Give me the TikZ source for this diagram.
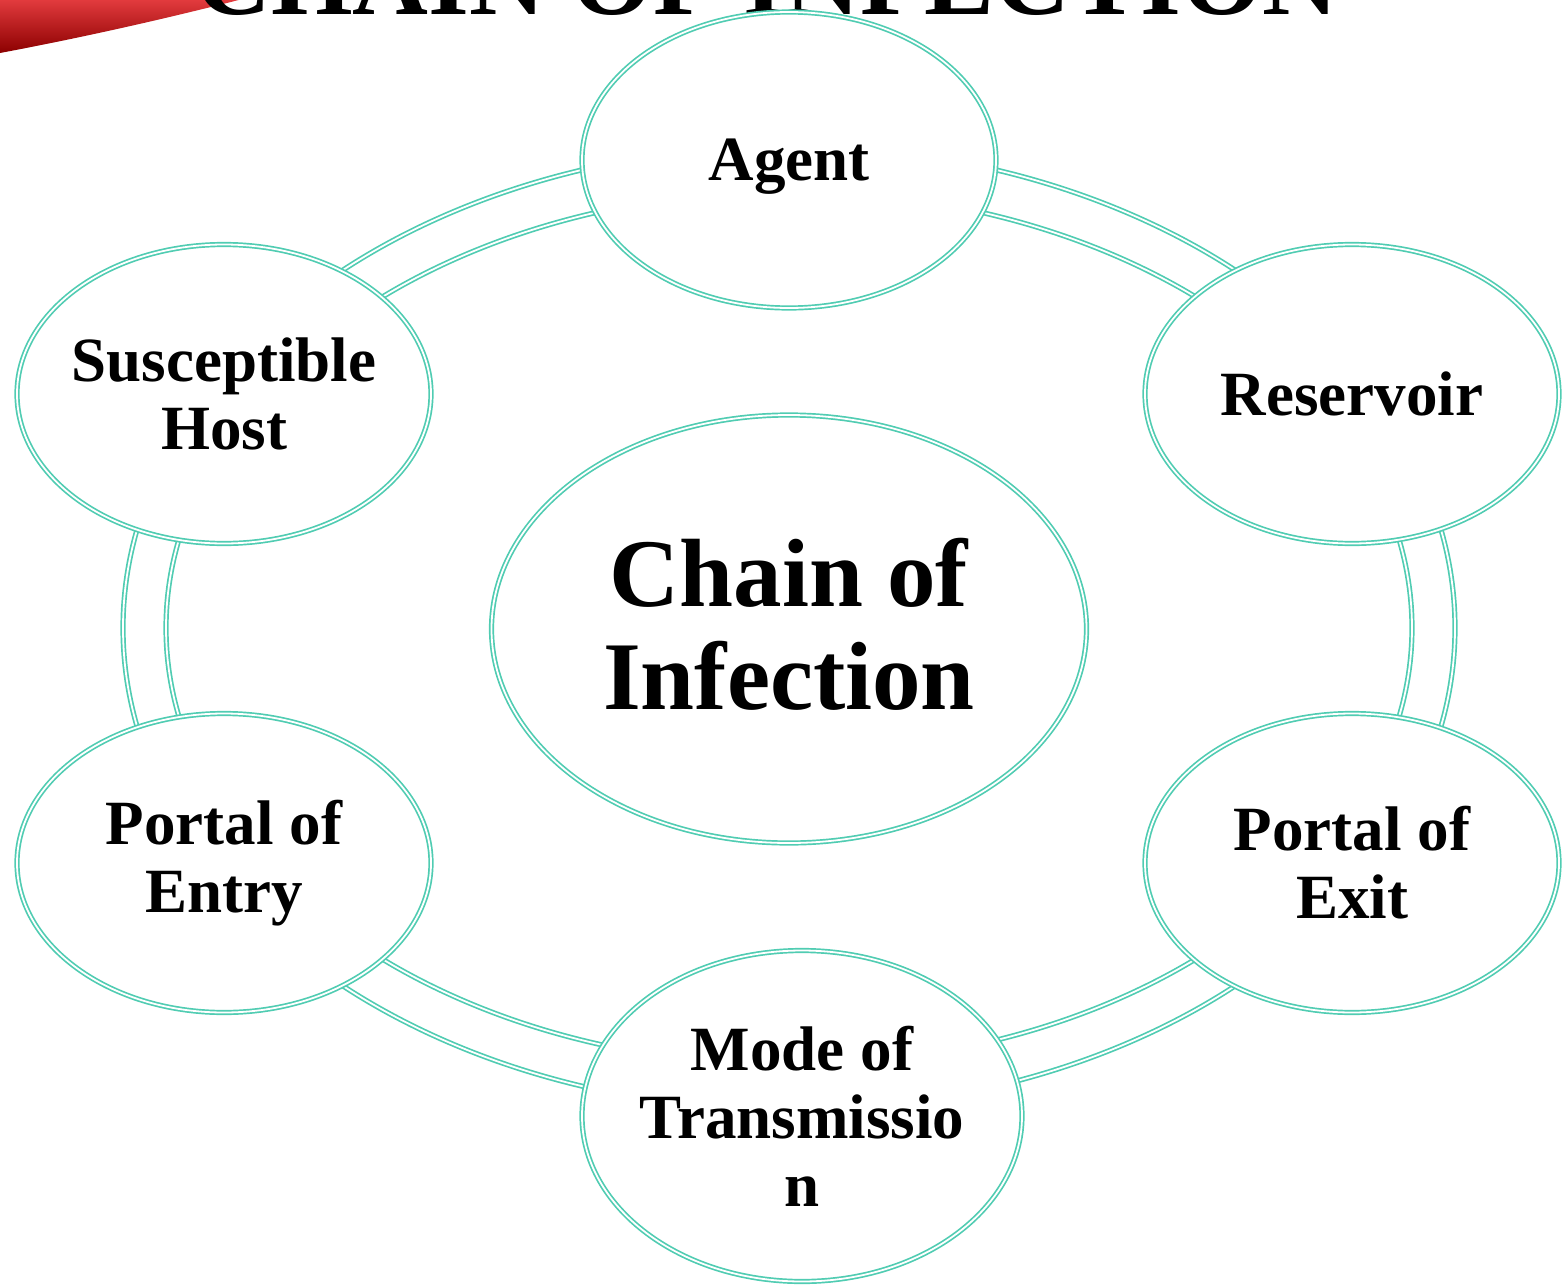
\documentclass[tikz,border=0pt]{standalone}
\usepackage{fontspec}
\setmainfont{Liberation Serif}
\usetikzlibrary{shapes.geometric}
\definecolor{mint}{RGB}{80,204,178}
\definecolor{swred}{RGB}{230,30,34}
\definecolor{swdark}{RGB}{140,0,0}
\begin{document}
\begin{tikzpicture}[x=1pt,y=-1pt,
  dline/.style={draw=mint, line width=1.7pt, double=white, double distance=1.8pt},
  bubble/.style={ellipse, dline, fill=white, inner sep=0pt, align=center,
    font=\fontsize{63}{68}\selectfont\bfseries},
]
\useasboundingbox (0,0) rectangle (1564,1285);
\clip (0,0) rectangle (1564,1285);
% red swoosh
\shade[top color=swred!85!white, middle color=swred, bottom color=swdark]
  (0,-5) -- (258,-5) .. controls (170,18) and (80,38) .. (0,53) -- cycle;
% title
\node[anchor=base, inner sep=0pt, font=\fontsize{105}{105}\selectfont\bfseries] (title) at (767,14) {CHAIN OF INFECTION};
% ring bands
\foreach \c in {-60,0,60,120,180,240}{
  \pgfmathsetmacro{\s}{\c-24}
  \pgfmathsetmacro{\e}{\c+24}
  \draw[dline] ({789+666*cos(\s)},{628+482*sin(\s)})
    arc[start angle=\s, end angle=\e, x radius=666, y radius=482]
    -- ({789+623*cos(\e)},{628+437*sin(\e)})
    arc[start angle=\e, end angle=\s, x radius=623, y radius=437] -- cycle;
}
% nodes
\node[bubble, minimum width=414, minimum height=296, text depth=0pt] (agent) at (789,160) {Agent};
\node[bubble, minimum width=414, minimum height=299] (reservoir) at (1352,394) {Reservoir};
\node[bubble, minimum width=414, minimum height=299] (exit) at (1352,863) {Portal of\\Exit};
\node[bubble, minimum width=440, minimum height=331, inner xsep=-40pt] (mode) at (802,1116) {Mode of\\Transmissio\\n};
\node[bubble, minimum width=414, minimum height=299] (entry) at (224,863) {Portal of\\Entry};
\node[bubble, minimum width=414, minimum height=299, inner xsep=-40pt] (host) at (224,394) {Susceptible\\Host};
\node[bubble, minimum width=595, minimum height=428, text depth=10pt, font=\fontsize{97}{103}\selectfont\bfseries] (center) at (789,629) {Chain of\\Infection};
\end{tikzpicture}
\end{document}
